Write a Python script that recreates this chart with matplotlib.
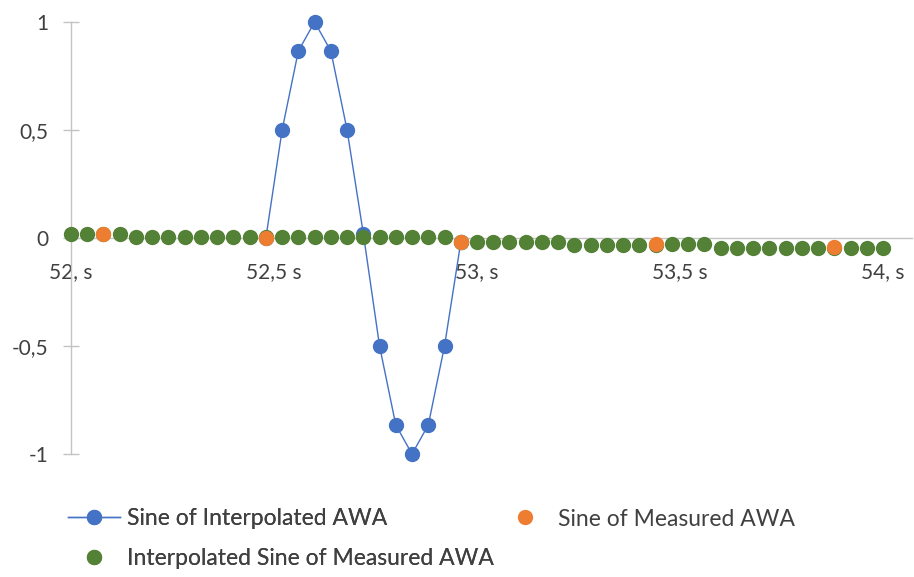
import matplotlib

matplotlib.use("Agg")
import matplotlib.pyplot as plt
from matplotlib.lines import Line2D

plt.rcParams["font.family"] = ["Lato", "DejaVu Sans"]

BLUE = "#4472C4"
ORANGE = "#ED7D31"
GREEN = "#538135"
AXIS = "#C3C3C3"
TEXT = "#404040"

# Sine of the interpolated apparent wind angle (only over the turn)
interp_t = [52.48, 52.52, 52.56, 52.60, 52.64, 52.68, 52.72,
            52.76, 52.80, 52.84, 52.88, 52.92, 52.96]
interp_sin = [0.0, 0.5, 0.866, 1.0, 0.866, 0.5, 0.02,
              -0.5, -0.866, -1.0, -0.866, -0.5, -0.02]

# Sine of the measured AWA (one sample roughly every 0.45 s)
meas_t = [52.08, 52.48, 52.96, 53.44, 53.88]
meas_sin = [0.017, 0.002, -0.02, -0.029, -0.043]

# Sine of measured AWA, interpolated onto the 25 Hz grid
grid_t = [52.00, 52.04, 52.08, 52.12, 52.16, 52.20, 52.24, 52.28, 52.32,
          52.36, 52.40, 52.44, 52.48, 52.52, 52.56, 52.60, 52.64, 52.68,
          52.72, 52.76, 52.80, 52.84, 52.88, 52.92, 52.96, 53.00, 53.04,
          53.08, 53.12, 53.16, 53.20, 53.24, 53.28, 53.32, 53.36, 53.40,
          53.44, 53.48, 53.52, 53.56, 53.60, 53.64, 53.68, 53.72, 53.76,
          53.80, 53.84, 53.88, 53.92, 53.96, 54.00]
grid_sin = [0.017, 0.017, 0.017, 0.017,
            0.005, 0.005, 0.005, 0.005, 0.005, 0.005, 0.005, 0.005,
            0.003, 0.003, 0.003, 0.003, 0.003, 0.003, 0.003, 0.003,
            0.003, 0.003, 0.003, 0.003,
            -0.02,
            -0.017, -0.017, -0.017, -0.017, -0.017, -0.017,
            -0.031, -0.031, -0.031, -0.031, -0.031, -0.031,
            -0.029, -0.029, -0.029,
            -0.047, -0.047, -0.047, -0.047, -0.047, -0.047, -0.047,
            -0.047, -0.047, -0.047, -0.047]

x_ticks = [52.0, 52.5, 53.0, 53.5, 54.0]
x_labels = ["52, s", "52,5 s", "53, s", "53,5 s", "54, s"]
y_ticks = [-1.0, -0.5, 0.0, 0.5, 1.0]
y_labels = ["-1", "-0,5", "0", "0,5", "1"]

W, H = 914, 577
fig = plt.figure(figsize=(W / 100, H / 100), dpi=100)
ax = fig.add_axes([71 / W, 1 - 454 / H, 841 / W, 432 / H])

ax.plot(interp_t, interp_sin, color=BLUE, lw=1.0, marker="o", ms=10,
        mec=BLUE, mfc=BLUE, zorder=3, clip_on=False)
ax.plot(grid_t, grid_sin, ls="none", marker="o", ms=10, mec=GREEN,
        mfc=GREEN, zorder=4, clip_on=False)
ax.plot(meas_t, meas_sin, ls="none", marker="o", ms=10, mec=ORANGE,
        mfc=ORANGE, zorder=5, clip_on=False)

ax.set_xlim(52.0, 52.0 + 841 / 406)
ax.set_ylim(-1, 1)

for s in ("top", "right"):
    ax.spines[s].set_visible(False)
ax.spines["bottom"].set_position(("data", 0))
for s in ("left", "bottom"):
    ax.spines[s].set_color(AXIS)
    ax.spines[s].set_linewidth(1.0)

ax.set_xticks(x_ticks, x_labels)
ax.set_yticks(y_ticks, y_labels)
ax.tick_params(axis="x", length=0, pad=17, labelsize=15, labelcolor=TEXT)
ax.tick_params(axis="y", direction="inout", length=12, width=1.0,
               color=AXIS, pad=10, labelsize=15, labelcolor=TEXT)

leg_kw = dict(frameon=False, fontsize=16.5, handlelength=2.26,
              handletextpad=0.3, borderpad=0, borderaxespad=0,
              labelcolor=TEXT)
h_blue = Line2D([], [], color=BLUE, lw=1.0, marker="o", ms=10)
h_green = Line2D([], [], ls="none", color=GREEN, marker="o", ms=10)
h_orange = Line2D([], [], ls="none", color=ORANGE, marker="o", ms=10)

leg1 = fig.legend([h_blue, h_green],
                  ["Sine of Interpolated AWA",
                   "Interpolated Sine of Measured AWA"],
                  loc="center left", bbox_to_anchor=(68 / W, 1 - 538.5 / H),
                  labelspacing=0.85, **leg_kw)
fig.legend([h_orange], ["Sine of Measured AWA"], loc="center left",
           bbox_to_anchor=(499 / W, 1 - 519 / H), **leg_kw)
fig.add_artist(leg1)

fig.savefig("out.png", dpi=100)
